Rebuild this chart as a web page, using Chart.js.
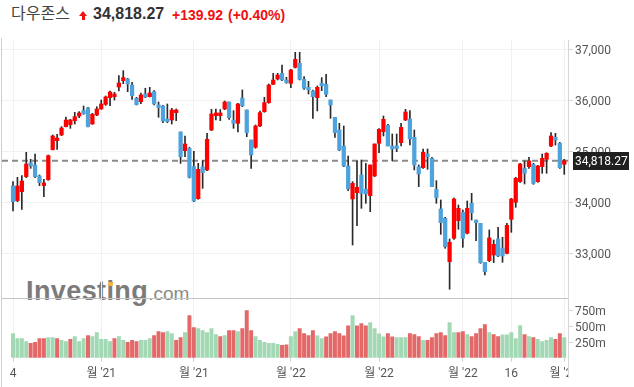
<!DOCTYPE html>
<html>
<head>
<meta charset="utf-8">
<script src="https://cdn.jsdelivr.net/npm/chart.js@4.4.1/dist/chart.umd.min.js"></script>
<style>
  body { margin: 0; background: #fff; width: 634px; height: 387px; overflow: hidden; position: relative; font-family: 'Liberation Sans', Arial, sans-serif; }
  .abs { position: absolute; white-space: nowrap; }
  #name { left: 11px; top: 4px; font: 16px/16px 'Noto Sans CJK KR', sans-serif; color: #444; }
  #last { left: 93px; top: 6px; font: bold 16px/16px 'Liberation Sans', Arial, sans-serif; color: #333; }
  #chg { left: 172px; top: 7.5px; font: bold 14px/14px 'Liberation Sans', Arial, sans-serif; color: #f01010; }
  #pct { left: 228px; top: 7.5px; font: bold 14px/14px 'Liberation Sans', Arial, sans-serif; color: #f01010; }
  #arrHead { left: 79px; top: 11px; width: 0; height: 0; border-left: 4px solid transparent; border-right: 4px solid transparent; border-bottom: 5px solid #f01010; }
  #arrStem { left: 81.5px; top: 16px; width: 3px; height: 4px; background: #f01010; }
  #wm { left: 26px; top: 276px; color: #7b7b7b; }
  #wm b { font: bold 27px 'Liberation Sans', Arial, sans-serif; letter-spacing: 0.4px; }
  #wm span { font: 19px 'Liberation Sans', Arial, sans-serif; color: #8a8a8a; }
  #wmDot { left: 108px; top: 282px; width: 5px; height: 4px; background: #f5b041; transform: skewX(-15deg); }
  canvas { position: absolute; left: 0; }
  #price { top: 38px; }
  #vol { top: 299px; }
  #leftLine { left: 1px; top: 38px; width: 1px; height: 349px; background: #cfcfcf; }
  #rightLine { left: 568px; top: 40px; width: 1px; height: 338px; background: #d6d6d6; }
  #sep { left: 2px; top: 298px; width: 566px; height: 1px; background: #c4c4c4; }
  #mask { left: 569px; top: 362px; width: 65px; height: 25px; background: #fff; }
</style>
</head>
<body>
<div class="abs" id="name">다우존스</div>
<div class="abs" id="arrHead"></div>
<div class="abs" id="arrStem"></div>
<div class="abs" id="last">34,818.27</div>
<div class="abs" id="chg">+139.92</div>
<div class="abs" id="pct">(+0.40%)</div>

<div class="abs" id="wm"><b>Investing</b><span>.com</span></div>
<div class="abs" id="wmDot"></div>

<canvas id="price" width="634" height="261"></canvas>
<canvas id="vol" width="634" height="88"></canvas>

<div class="abs" id="leftLine"></div>
<div class="abs" id="sep"></div>
<div class="abs" id="mask"></div>
<div class="abs" id="rightLine"></div>

<script>
// 다우존스 일봉 2021-10-04 ~ 2022-04-01
var tickIdx = [0, 20, 41, 63, 83, 102, 113, 125];
var tickLabels = ["4", "월 '21", "월 '21", "월 '22", "월 '22", "월 '22", "16", "월 '22"];
var priceTicks = [33000, 34000, 35000, 36000, 37000];
var volTicks = [250, 500, 750];
var lastPrice = 34818.27;

var opens = [34325,34038,34214,34508,34781,34736,34521,34332,34449,35036,
  35212,35323,35486,35525,35603,35695,35799,35851,35538,35714,
  35832,35923,36054,36073,36262,36386,36419,36301,36040,35975,
  36125,36073,36171,35910,35890,35636,35617,35760,35382,35016,
  35062,34703,34077,34697,34638,35421,35701,35701,35832,35969,
  35617,35551,36047,35812,35225,35082,35499,35780,35956,36314,
  36419,36530,36399,36334,36647,36725,36412,36256,36184,36054,
  36340,36314,36008,35669,35421,35108,34716,34071,34194,34540,
  34266,34136,34521,35160,35388,35512,35108,35108,35173,35617,
  35636,35277,34703,34684,34951,34866,34260,33875,33692,32844,
  33301,33646,33809,33399,33985,33659,33594,32831,32864,32974,
  33288,33112,33007,33672,34005,34410,34671,34703,34749,34410,
  34703,34847,35108,35277,35160,34749];
var highs = [34410,34494,34527,34984,34847,34951,34540,34455,34932,35323,
  35336,35486,35675,35630,35766,35780,35891,35864,35747,35877,
  36008,36086,36184,36158,36484,36582,36432,36354,36060,36145,
  36236,36256,36191,35969,35903,35930,35845,35832,35382,35303,
  35082,35003,34768,34820,35355,35825,35832,35820,35988,35969,
  35799,35943,36204,35812,35225,35519,35793,36060,36321,36530,
  36530,36693,36451,36608,36941,36941,36464,36373,36204,36282,
  36445,36510,36008,35669,35551,35499,34912,34410,34814,34834,
  34769,34736,35147,35447,35695,35532,35343,35343,35551,35825,
  35799,35421,34736,35049,35049,34886,34429,34051,33712,33288,
  34090,33953,33855,34031,34181,33659,33594,32831,33464,33268,
  33516,33320,33594,34083,34494,34768,34814,34886,34768,34729,
  34951,34977,35368,35355,35179,34847];
var lows = [33835,34018,33868,34488,34671,34488,34332,34116,34436,35030,
  35042,35310,35480,35453,35538,35662,35727,35480,35532,35701,
  35825,35903,35897,36008,36184,36327,36171,36021,35910,35936,
  36054,36067,35910,35669,35564,35564,35538,35604,34768,34899,
  34481,34018,34064,34279,34625,35408,35617,35604,35819,35630,
  35453,35382,35877,35290,34671,35062,35486,35767,35943,36308,
  36399,36386,36334,36249,36634,36399,36217,36125,35649,35793,
  36191,36073,35649,35277,35016,34703,34234,33170,33549,33888,
  33986,33823,34508,34977,35303,35108,34821,34997,35108,35604,
  35127,34638,34312,34671,34651,34312,33986,33379,33105,32303,
  33281,33477,33125,33386,33659,33255,32811,32583,32844,32825,
  32942,32831,32994,33418,33907,34397,34364,34671,34358,34397,
  34573,34573,35095,35127,34671,34553];
var closes = [34018,34325,34423,34755,34716,34508,34390,34384,34919,35303,
  35264,35460,35616,35616,35682,35754,35740,35486,35727,35832,
  35930,36067,36164,36125,36340,36445,36321,36093,35917,36106,
  36067,36145,35930,35858,35597,35584,35812,35812,34899,35147,
  34495,34031,34651,34586,35238,35734,35754,35754,35969,35662,
  35551,35930,35897,35369,34932,35499,35760,35956,36301,36399,
  36497,36399,36347,36595,36804,36412,36236,36204,36073,36256,
  36288,36119,35910,35369,35030,34716,34266,34377,34299,34181,
  34168,34736,35147,35434,35630,35108,35049,35056,35473,35773,
  35245,34736,34560,34984,34899,34312,34097,33607,33138,33222,
  34070,33888,33301,33888,33803,33607,32825,32648,33307,33183,
  32955,32955,33555,34070,34475,34755,34573,34814,34377,34716,
  34866,34964,35303,35225,34684,34818];

// 거래량 (백만), volUp: 1 = 초록, 0 = 빨강
var volumes = [388,308,308,260,229,245,308,308,324,324,
  308,277,260,293,340,260,308,356,340,404,
  293,293,260,308,340,277,245,277,260,277,
  277,308,356,420,404,420,388,277,324,404,
  676,484,468,436,404,468,372,340,356,436,
  436,420,468,755,436,340,277,245,229,229,
  213,197,207,340,420,468,388,356,436,351,
  308,335,388,420,388,351,511,676,511,548,
  511,564,468,383,335,388,335,324,324,324,
  388,372,340,277,277,324,388,404,356,564,
  404,404,420,372,340,388,468,532,404,372,
  340,367,367,404,308,516,372,340,324,293,
  260,277,324,293,388,324];
var volUp = [1,1,1,1,0,0,0,0,1,1,
  0,1,1,0,1,1,1,0,1,1,
  1,1,1,0,1,1,0,0,0,1,
  1,1,0,0,0,1,1,0,0,1,
  0,0,1,1,1,1,1,0,1,0,
  0,1,0,0,0,1,1,1,1,1,
  1,0,0,1,1,0,0,0,0,1,
  1,0,0,0,0,0,0,1,0,0,
  0,1,1,1,1,0,0,1,1,1,
  0,0,0,1,0,0,0,0,0,1,
  1,0,0,1,0,0,0,0,1,0,
  0,1,1,1,1,1,0,1,0,1,
  1,1,1,0,0,1];

var UP = '#ff0000', DOWN = '#4ea3dd', WICK = '#2a2a2a';
var VOL_UP = '#a3d8b4', VOL_DN = '#e46868';
var xMin = -2.5, xMax = 125.85;
var idx = opens.map(function(v, i) { return i; });

Chart.defaults.font.family = "Roboto, 'Noto Sans CJK KR', sans-serif";
Chart.defaults.font.size = 12;
Chart.defaults.color = '#555';

function xAxis(showLabels, h) {
  return {
    type: 'linear', min: xMin, max: xMax, offset: false,
    afterBuildTicks: function(s) { s.ticks = tickIdx.map(function(v) { return {value: v}; }); },
    afterFit: function(s) { s.height = h; },
    grid: {offset: false, color: '#f1f1f1', drawTicks: showLabels, tickLength: 4, tickColor: '#cfcfcf'},
    border: {display: false},
    ticks: {
      display: showLabels, autoSkip: false, maxRotation: 0, padding: 5,
      callback: function(v, i) { return tickLabels[i]; }
    }
  };
}

// 오른쪽 축: 폭 고정, 라벨 여백 제거
function fitRight(s) {
  s.width = 66;
  s.paddingTop = 0;
  s.paddingBottom = 0;
}

var priceTag = {
  id: 'priceTag',
  afterDraw: function(chart) {
    var ctx = chart.ctx;
    var y = Math.round(chart.scales.y.getPixelForValue(lastPrice));
    var x0 = chart.chartArea.right + 5;
    ctx.save();
    ctx.fillStyle = '#202020';
    ctx.fillRect(x0, y - 9, 56, 18);
    ctx.fillStyle = '#fff';
    ctx.font = "12px Roboto";
    ctx.textBaseline = 'middle';
    ctx.fillText(lastPrice.toLocaleString('en-US', {minimumFractionDigits: 2}), x0 + 2, y + 0.5);
    ctx.restore();
  }
};

new Chart(document.getElementById('price'), {
  type: 'bar',
  data: {
    datasets: [
      {
        type: 'line',
        data: [{x: xMin, y: lastPrice}, {x: xMax, y: lastPrice}],
        borderColor: '#8a8a8a', borderWidth: 2, borderDash: [6, 4],
        pointRadius: 0, order: 3
      },
      {
        data: idx.map(function(i) { return {x: i, y: [lows[i], highs[i]]}; }),
        backgroundColor: WICK, barThickness: 1, grouped: false, order: 2
      },
      {
        data: idx.map(function(i) { return {x: i, y: [opens[i], closes[i]]}; }),
        backgroundColor: idx.map(function(i) { return closes[i] >= opens[i] ? UP : DOWN; }),
        barThickness: 3.6, grouped: false, order: 1
      }
    ]
  },
  options: {
    responsive: false, animation: false, devicePixelRatio: 1,
    layout: {autoPadding: false, padding: {left: 2, top: 2, right: 0, bottom: 0}},
    plugins: {legend: {display: false}, tooltip: {enabled: false}},
    scales: {
      x: xAxis(false, 0),
      y: {
        position: 'right', min: 32113, max: 37182,
        afterBuildTicks: function(s) { s.ticks = priceTicks.map(function(v) { return {value: v}; }); },
        afterFit: fitRight,
        grid: {color: '#f1f1f1', tickLength: 5, tickColor: '#d6d6d6'},
        border: {display: false},
        ticks: {padding: 2, labelOffset: 1.5, callback: function(v) { return v.toLocaleString('en-US'); }}
      }
    }
  },
  plugins: [priceTag]
});

new Chart(document.getElementById('vol'), {
  type: 'bar',
  data: {
    datasets: [{
      data: idx.map(function(i) { return {x: i, y: volumes[i]}; }),
      backgroundColor: idx.map(function(i) { return volUp[i] ? VOL_UP : VOL_DN; }),
      barThickness: 3.3
    }]
  },
  options: {
    responsive: false, animation: false, devicePixelRatio: 1,
    layout: {autoPadding: false, padding: {left: 2, top: 0, right: 0, bottom: 0}},
    plugins: {legend: {display: false}, tooltip: {enabled: false}},
    scales: {
      x: xAxis(true, 29.3),
      y: {
        position: 'right', min: 0, max: 940,
        afterBuildTicks: function(s) { s.ticks = volTicks.map(function(v) { return {value: v}; }); },
        afterFit: fitRight,
        grid: {drawOnChartArea: false, tickLength: 5, tickColor: '#d6d6d6'},
        border: {display: false},
        ticks: {padding: 2, labelOffset: 1.5, callback: function(v) { return v + 'm'; }}
      }
    }
  }
});
</script>
</body>
</html>
